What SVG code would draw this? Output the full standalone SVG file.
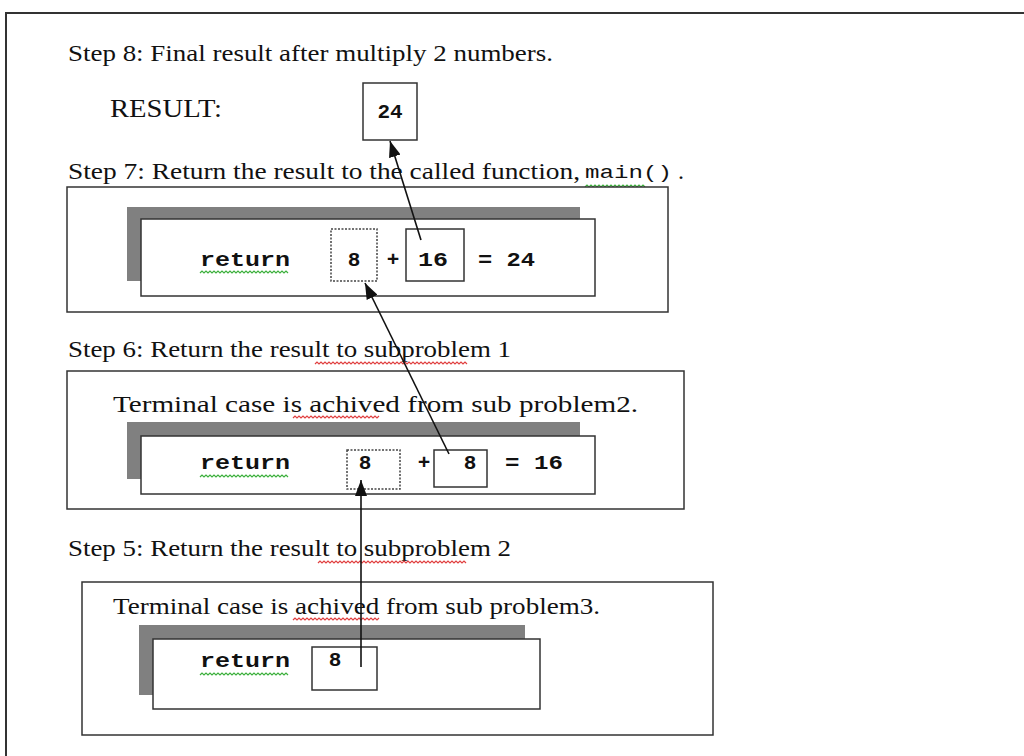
<svg xmlns="http://www.w3.org/2000/svg" width="1024" height="756" viewBox="0 0 1024 756">
<defs>
<style>
.t{font-family:"Liberation Serif","Times New Roman",serif;font-size:24px;fill:#111;}
.m{font-family:"Liberation Mono","Courier New",monospace;font-size:21px;font-weight:bold;fill:#111;}
.box{fill:#fff;stroke:#333;stroke-width:1.5;}
.dot{fill:#fff;stroke:#444;stroke-width:1.5;stroke-dasharray:2 1.5;}
.sh{fill:#808080;}
.g{fill:none;stroke:#3cb03c;stroke-width:1.2;}
.r{fill:none;stroke:#e04040;stroke-width:1.2;}
.c{stroke:#111;stroke-width:1.6;fill:none;}
</style>
<marker id="ah" viewBox="0 0 16 12" refX="16" refY="6" markerWidth="16" markerHeight="12" markerUnits="userSpaceOnUse" orient="auto">
<path d="M0,0 L16,6 L0,12 z" fill="#111"/>
</marker>
</defs>
<rect x="0" y="0" width="1024" height="756" fill="#fff"/>
<path d="M6,756 L6,13 L1024,13" fill="none" stroke="#333" stroke-width="2"/>

<g id="step8">
<text class="t" x="68" y="61" textLength="485" lengthAdjust="spacingAndGlyphs">Step 8: Final result after multiply 2 numbers.</text>
<text class="t" x="110" y="117" style="font-size:26px" textLength="112" lengthAdjust="spacingAndGlyphs">RESULT:</text>
<rect class="box" x="363" y="83" width="54" height="57"/>
<text class="m" x="390" y="118" text-anchor="middle">24</text>
</g>

<g id="step7">
<text class="t" x="68" y="179" textLength="512" lengthAdjust="spacingAndGlyphs">Step 7: Return the result to the called function,</text>
<text class="m" x="585" y="178" style="font-weight:normal;font-size:19px" textLength="87" lengthAdjust="spacingAndGlyphs">main()</text>
<text class="t" x="678" y="179">.</text>
<path class="g" d="M585,187 l2,-2 l2,2 l2,-2 l2,2 l2,-2 l2,2 l2,-2 l2,2 l2,-2 l2,2 l2,-2 l2,2 l2,-2 l2,2 l2,-2 l2,2 l2,-2 l2,2 l2,-2 l2,2 l2,-2 l2,2 l2,-2 l2,2 l2,-2 l2,2 l2,-2 l2,2 l2,-2 l2,2"/>
<rect class="box" x="67" y="187" width="601" height="125"/>
<rect class="sh" x="127" y="207" width="453" height="74"/>
<rect class="box" x="141" y="219" width="454" height="77"/>
<text class="m" x="200" y="266" textLength="90" lengthAdjust="spacingAndGlyphs">return</text>
<path class="g" d="M200,273 l2,-2 l2,2 l2,-2 l2,2 l2,-2 l2,2 l2,-2 l2,2 l2,-2 l2,2 l2,-2 l2,2 l2,-2 l2,2 l2,-2 l2,2 l2,-2 l2,2 l2,-2 l2,2 l2,-2 l2,2 l2,-2 l2,2 l2,-2 l2,2 l2,-2 l2,2 l2,-2 l2,2 l2,-2 l2,2 l2,-2 l2,2 l2,-2 l2,2 l2,-2 l2,2 l2,-2 l2,2 l2,-2 l2,2 l2,-2 l2,2"/>
<rect class="dot" x="331" y="229" width="46" height="52"/>
<text class="m" x="354" y="266" text-anchor="middle">8</text>
<text class="m" x="393" y="266" text-anchor="middle">+</text>
<rect class="box" x="406" y="229" width="58" height="52"/>
<text class="m" x="433" y="266" text-anchor="middle" textLength="30" lengthAdjust="spacingAndGlyphs">16</text>
<text class="m" x="478" y="266" textLength="57" lengthAdjust="spacingAndGlyphs">= 24</text>
</g>

<g id="step6">
<text class="t" x="68" y="357" textLength="443" lengthAdjust="spacingAndGlyphs">Step 6: Return the result to subproblem 1</text>
<path class="r" d="M315,364 l2,-2 l2,2 l2,-2 l2,2 l2,-2 l2,2 l2,-2 l2,2 l2,-2 l2,2 l2,-2 l2,2 l2,-2 l2,2 l2,-2 l2,2 l2,-2 l2,2 l2,-2 l2,2 l2,-2 l2,2 l2,-2 l2,2 l2,-2 l2,2 l2,-2 l2,2 l2,-2 l2,2 l2,-2 l2,2 l2,-2 l2,2 l2,-2 l2,2 l2,-2 l2,2 l2,-2 l2,2 l2,-2 l2,2 l2,-2 l2,2 l2,-2 l2,2 l2,-2 l2,2 l2,-2 l2,2 l2,-2 l2,2 l2,-2 l2,2 l2,-2 l2,2 l2,-2 l2,2 l2,-2 l2,2 l2,-2 l2,2 l2,-2 l2,2 l2,-2 l2,2 l2,-2 l2,2 l2,-2 l2,2 l2,-2 l2,2 l2,-2 l2,2 l2,-2 l2,2"/>
<rect class="box" x="67" y="371" width="617" height="138"/>
<text class="t" x="113" y="412" textLength="525" lengthAdjust="spacingAndGlyphs">Terminal case is achived from sub problem2.</text>
<path class="r" d="M293,418 l2,-2 l2,2 l2,-2 l2,2 l2,-2 l2,2 l2,-2 l2,2 l2,-2 l2,2 l2,-2 l2,2 l2,-2 l2,2 l2,-2 l2,2 l2,-2 l2,2 l2,-2 l2,2 l2,-2 l2,2 l2,-2 l2,2 l2,-2 l2,2 l2,-2 l2,2 l2,-2 l2,2 l2,-2 l2,2 l2,-2 l2,2 l2,-2 l2,2 l2,-2 l2,2 l2,-2 l2,2 l2,-2 l2,2 l2,-2"/>
<rect class="sh" x="127" y="422" width="453" height="57"/>
<rect class="box" x="141" y="436" width="454" height="58"/>
<text class="m" x="200" y="469" textLength="90" lengthAdjust="spacingAndGlyphs">return</text>
<path class="g" d="M200,477 l2,-2 l2,2 l2,-2 l2,2 l2,-2 l2,2 l2,-2 l2,2 l2,-2 l2,2 l2,-2 l2,2 l2,-2 l2,2 l2,-2 l2,2 l2,-2 l2,2 l2,-2 l2,2 l2,-2 l2,2 l2,-2 l2,2 l2,-2 l2,2 l2,-2 l2,2 l2,-2 l2,2 l2,-2 l2,2 l2,-2 l2,2 l2,-2 l2,2 l2,-2 l2,2 l2,-2 l2,2 l2,-2 l2,2 l2,-2 l2,2"/>
<rect class="dot" x="347" y="450" width="53" height="39"/>
<text class="m" x="365" y="469" text-anchor="middle">8</text>
<text class="m" x="424" y="469" text-anchor="middle">+</text>
<rect class="box" x="434" y="450" width="53" height="37"/>
<text class="m" x="470" y="469" text-anchor="middle">8</text>
<text class="m" x="505" y="469" textLength="58" lengthAdjust="spacingAndGlyphs">= 16</text>
</g>

<g id="step5">
<text class="t" x="68" y="556" textLength="443" lengthAdjust="spacingAndGlyphs">Step 5: Return the result to subproblem 2</text>
<path class="r" d="M318,563 l2,-2 l2,2 l2,-2 l2,2 l2,-2 l2,2 l2,-2 l2,2 l2,-2 l2,2 l2,-2 l2,2 l2,-2 l2,2 l2,-2 l2,2 l2,-2 l2,2 l2,-2 l2,2 l2,-2 l2,2 l2,-2 l2,2 l2,-2 l2,2 l2,-2 l2,2 l2,-2 l2,2 l2,-2 l2,2 l2,-2 l2,2 l2,-2 l2,2 l2,-2 l2,2 l2,-2 l2,2 l2,-2 l2,2 l2,-2 l2,2 l2,-2 l2,2 l2,-2 l2,2 l2,-2 l2,2 l2,-2 l2,2 l2,-2 l2,2 l2,-2 l2,2 l2,-2 l2,2 l2,-2 l2,2 l2,-2 l2,2 l2,-2 l2,2 l2,-2 l2,2 l2,-2 l2,2 l2,-2 l2,2 l2,-2 l2,2 l2,-2 l2,2"/>
<rect class="box" x="82" y="582" width="631" height="153"/>
<text class="t" x="113" y="614" textLength="487" lengthAdjust="spacingAndGlyphs">Terminal case is achived from sub problem3.</text>
<path class="r" d="M293,620 l2,-2 l2,2 l2,-2 l2,2 l2,-2 l2,2 l2,-2 l2,2 l2,-2 l2,2 l2,-2 l2,2 l2,-2 l2,2 l2,-2 l2,2 l2,-2 l2,2 l2,-2 l2,2 l2,-2 l2,2 l2,-2 l2,2 l2,-2 l2,2 l2,-2 l2,2 l2,-2 l2,2 l2,-2 l2,2 l2,-2 l2,2 l2,-2 l2,2 l2,-2 l2,2 l2,-2 l2,2 l2,-2 l2,2 l2,-2"/>
<rect class="sh" x="139" y="625" width="386" height="70"/>
<rect class="box" x="153" y="639" width="387" height="70"/>
<text class="m" x="200" y="667" textLength="90" lengthAdjust="spacingAndGlyphs">return</text>
<path class="g" d="M200,675 l2,-2 l2,2 l2,-2 l2,2 l2,-2 l2,2 l2,-2 l2,2 l2,-2 l2,2 l2,-2 l2,2 l2,-2 l2,2 l2,-2 l2,2 l2,-2 l2,2 l2,-2 l2,2 l2,-2 l2,2 l2,-2 l2,2 l2,-2 l2,2 l2,-2 l2,2 l2,-2 l2,2 l2,-2 l2,2 l2,-2 l2,2 l2,-2 l2,2 l2,-2 l2,2 l2,-2 l2,2 l2,-2 l2,2 l2,-2 l2,2"/>
<rect class="box" x="312" y="647" width="65" height="43"/>
<text class="m" x="335" y="666" text-anchor="middle">8</text>
</g>

<g id="connectors">
<line class="c" x1="421" y1="240" x2="390" y2="141" marker-end="url(#ah)"/>
<line class="c" x1="449" y1="454" x2="365" y2="283" marker-end="url(#ah)"/>
<line class="c" x1="361" y1="667" x2="361" y2="480" marker-end="url(#ah)"/>
</g>
</svg>
